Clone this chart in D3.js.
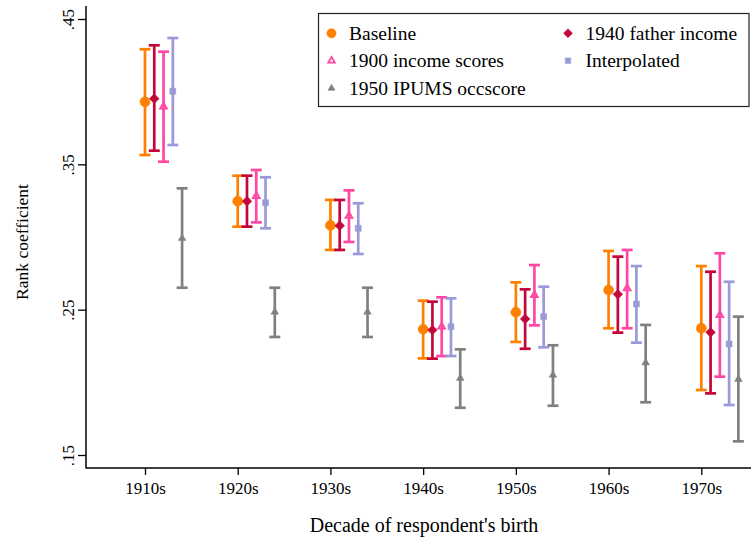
<!DOCTYPE html>
<html>
<head>
<meta charset="utf-8">
<script src="https://cdn.jsdelivr.net/npm/d3@7"></script>
<style>
  html, body { margin: 0; padding: 0; background: #fff; }
  svg { display: block; }
  text { font-family: "Liberation Serif", "Times New Roman", serif; fill: #000; }
</style>
</head>
<body>
<svg id="chart" width="751" height="541"></svg>
<script>
// ---------------- data ----------------
const decades = ["1910s", "1920s", "1930s", "1940s", "1950s", "1960s", "1970s"];
const decadeYears = [1910, 1920, 1930, 1940, 1950, 1960, 1970];
const yTicks = [0.15, 0.25, 0.35, 0.45];

const baseline   = [0.3930, 0.3246, 0.3080, 0.2365, 0.2482, 0.2635, 0.2372];
const baselineLo = [0.3564, 0.3071, 0.2911, 0.2165, 0.2278, 0.2372, 0.1947];
const baselineHi = [0.4292, 0.3422, 0.3255, 0.2562, 0.2688, 0.2904, 0.2800];

const father1940   = [0.3952, 0.3246, 0.3078, 0.2360, 0.2436, 0.2606, 0.2344];
const father1940Lo = [0.3594, 0.3071, 0.2911, 0.2163, 0.2231, 0.2342, 0.1924];
const father1940Hi = [0.4319, 0.3422, 0.3255, 0.2555, 0.2640, 0.2865, 0.2761];

const scores1900   = [0.3897, 0.3282, 0.3145, 0.2383, 0.2601, 0.2647, 0.2463];
const scores1900Lo = [0.3518, 0.3101, 0.2966, 0.2181, 0.2392, 0.2372, 0.2039];
const scores1900Hi = [0.4275, 0.3461, 0.3321, 0.2585, 0.2807, 0.2911, 0.2888];

const interpolated   = [0.4003, 0.3236, 0.3060, 0.2383, 0.2452, 0.2539, 0.2264];
const interpolatedLo = [0.3633, 0.3060, 0.2883, 0.2181, 0.2241, 0.2273, 0.1844];
const interpolatedHi = [0.4369, 0.3411, 0.3232, 0.2578, 0.2658, 0.2800, 0.2692];

const occ1950   = [0.2991, 0.2484, 0.2484, 0.2028, 0.2050, 0.2135, 0.2021];
const occ1950Lo = [0.2651, 0.2312, 0.2312, 0.1825, 0.1839, 0.1863, 0.1594];
const occ1950Hi = [0.3335, 0.2651, 0.2651, 0.2227, 0.2255, 0.2395, 0.2452];

// year offset inside each decade at which each series is plotted
const seriesNames   = ["Baseline", "1940 father income", "1900 income scores", "Interpolated", "1950 IPUMS occscore"];
const seriesOffsets = [0, 1, 2, 3, 4];

// ---------------- styles ----------------
const styles = {
  "Baseline":            { color: "#ff8000", symbol: d3.symbolCircle,    size: 80, hollow: false },
  "1940 father income":  { color: "#c4073a", symbol: d3.symbolDiamond2,  size: 60, hollow: false },
  "1900 income scores":  { color: "#ff47a3", symbol: d3.symbolTriangle2, size: 34, hollow: true },
  "Interpolated":        { color: "#9a9ad8", symbol: d3.symbolSquare2,   size: 46, hollow: false },
  "1950 IPUMS occscore": { color: "#808080", symbol: d3.symbolTriangle2, size: 42, hollow: false }
};

const series = [
  { name: seriesNames[0], off: seriesOffsets[0], v: baseline,     lo: baselineLo,     hi: baselineHi },
  { name: seriesNames[1], off: seriesOffsets[1], v: father1940,   lo: father1940Lo,   hi: father1940Hi },
  { name: seriesNames[2], off: seriesOffsets[2], v: scores1900,   lo: scores1900Lo,   hi: scores1900Hi },
  { name: seriesNames[3], off: seriesOffsets[3], v: interpolated, lo: interpolatedLo, hi: interpolatedHi },
  { name: seriesNames[4], off: seriesOffsets[4], v: occ1950,      lo: occ1950Lo,      hi: occ1950Hi }
];

// ---------------- layout ----------------
const svg = d3.select("#chart");
const axisX = 86, axisYBottom = 468, axisYTop = 6, rightEdge = 751;

const x = d3.scaleLinear().domain([1910, 1970]).range([145, 701.3]);
const y = d3.scaleLinear().domain([0.15, 0.45]).range([455, 19]);

function place(tx, ty, rot) {
  return `translate(${tx},${ty})` + (rot ? ` rotate(${rot})` : "");
}

// ---------------- axes ----------------
const yAxis = d3.axisLeft(y).tickValues(yTicks).tickSize(8)
  .tickFormat(d => d3.format(".2f")(d).replace(/^0/, ""));
const gy = svg.append("g").attr("transform", `translate(${axisX},0)`).call(yAxis);
gy.select(".domain").remove();
gy.selectAll(".tick line").attr("stroke", "#000").attr("stroke-width", 1.3);
gy.selectAll(".tick text")
  .attr("x", null).attr("dy", null)
  .attr("transform", place(-12, 0, -90))
  .attr("text-anchor", "middle")
  .style("font-size", "17px");

const xAxis = d3.axisBottom(x).tickValues(decadeYears).tickSize(7)
  .tickFormat((d, i) => decades[i]);
const gx = svg.append("g").attr("transform", `translate(0,${axisYBottom})`).call(xAxis);
gx.select(".domain").remove();
gx.selectAll(".tick line").attr("stroke", "#000").attr("stroke-width", 1.3);
gx.selectAll(".tick text")
  .attr("y", null).attr("dy", null)
  .attr("transform", place(0, 25.5))
  .attr("text-anchor", "middle")
  .style("font-size", "17px");

svg.append("line").attr("x1", axisX).attr("x2", axisX)
  .attr("y1", axisYTop).attr("y2", axisYBottom + 0.5)
  .attr("stroke", "#000").attr("stroke-width", 1.5);
svg.append("line").attr("x1", axisX).attr("x2", rightEdge)
  .attr("y1", axisYBottom).attr("y2", axisYBottom)
  .attr("stroke", "#000").attr("stroke-width", 1.5);

// axis titles
svg.append("text").attr("transform", place(28, 242, -90))
  .attr("text-anchor", "middle").style("font-size", "17.5px").text("Rank coefficient");
svg.append("text").attr("transform", place(424, 532))
  .attr("text-anchor", "middle").style("font-size", "20px").text("Decade of respondent's birth");

// ---------------- error bars & markers ----------------
const capHalf = 5.5;
series.forEach(s => {
  const st = styles[s.name];
  const g = svg.append("g");
  const rows = decadeYears.map((yr, i) => ({ xv: yr + s.off, v: s.v[i], lo: s.lo[i], hi: s.hi[i] }));
  g.selectAll("line.bar").data(rows).join("line")
    .attr("x1", d => x(d.xv)).attr("x2", d => x(d.xv))
    .attr("y1", d => y(d.lo)).attr("y2", d => y(d.hi))
    .attr("stroke", st.color).attr("stroke-width", 2.7);
  g.selectAll("line.caplo").data(rows).join("line")
    .attr("x1", d => x(d.xv) - capHalf).attr("x2", d => x(d.xv) + capHalf)
    .attr("y1", d => y(d.lo)).attr("y2", d => y(d.lo))
    .attr("stroke", st.color).attr("stroke-width", 2.7);
  g.selectAll("line.caphi").data(rows).join("line")
    .attr("x1", d => x(d.xv) - capHalf).attr("x2", d => x(d.xv) + capHalf)
    .attr("y1", d => y(d.hi)).attr("y2", d => y(d.hi))
    .attr("stroke", st.color).attr("stroke-width", 2.7);
  g.selectAll("path.mk").data(rows).join("path")
    .attr("d", d3.symbol().type(st.symbol).size(st.size))
    .attr("transform", d => `translate(${x(d.xv)},${y(d.v)})`)
    .attr("fill", st.hollow ? "none" : st.color)
    .attr("stroke", st.color).attr("stroke-width", st.hollow ? 1.8 : 0.5);
});

// ---------------- legend ----------------
const lg = svg.append("g");
lg.append("rect").attr("x", 318.5).attr("y", 13.5).attr("width", 430.5).attr("height", 93)
  .attr("fill", "#fff").attr("stroke", "#222").attr("stroke-width", 1.2);
const legendItems = [
  { name: "Baseline",            col: 0, row: 0 },
  { name: "1940 father income",  col: 1, row: 0 },
  { name: "1900 income scores",  col: 0, row: 1 },
  { name: "Interpolated",        col: 1, row: 1 },
  { name: "1950 IPUMS occscore", col: 0, row: 2 }
];
const colX = [331.5, 568], rowY = [33.3, 60.7, 88.3];
legendItems.forEach(it => {
  const st = styles[it.name];
  const mx = colX[it.col], my = rowY[it.row];
  lg.append("path")
    .attr("d", d3.symbol().type(st.symbol).size(st.size * (st.hollow ? 0.9 : 0.85))())
    .attr("transform", `translate(${mx},${my})`)
    .attr("fill", st.hollow ? "#fff" : st.color)
    .attr("stroke", st.color).attr("stroke-width", st.hollow ? 1.8 : 0.5);
  lg.append("text").attr("transform", place(mx + 17.5, my + 6.5))
    .style("font-size", "19.5px").text(it.name);
});
</script>
</body>
</html>
